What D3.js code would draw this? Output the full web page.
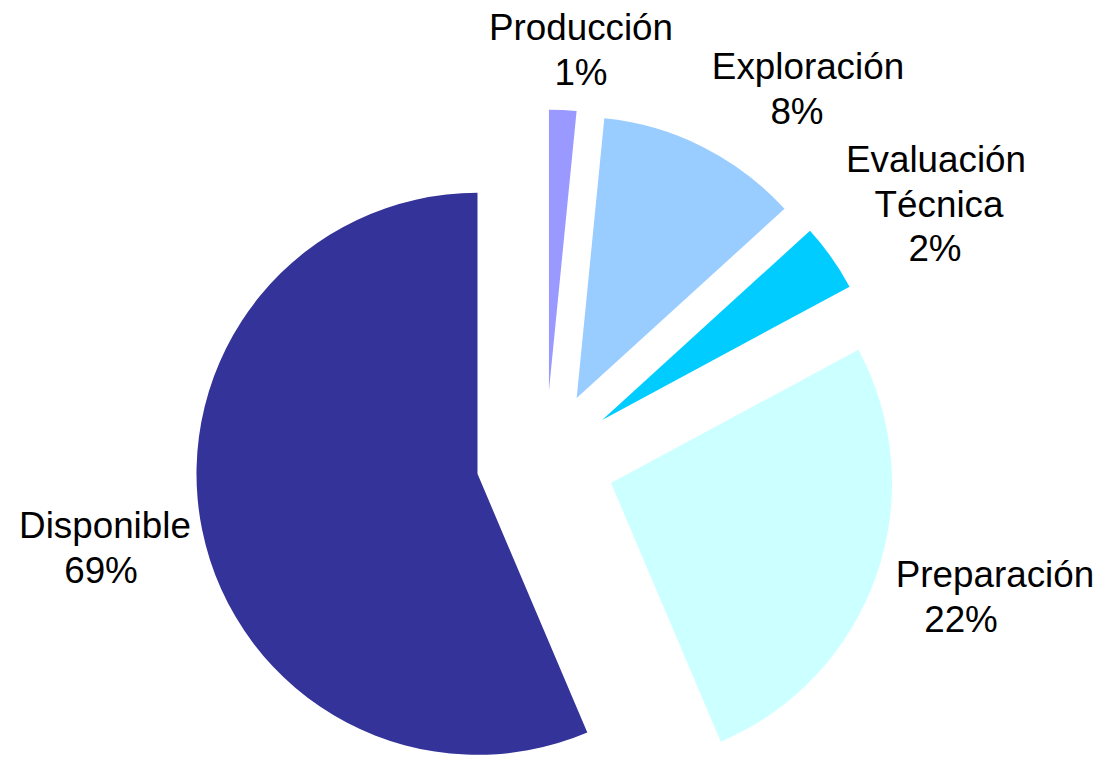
<!DOCTYPE html>
<html>
<head>
<meta charset="utf-8">
<script src="https://cdn.jsdelivr.net/npm/d3@7"></script>
<style>
  html, body { margin: 0; padding: 0; background: #ffffff; }
  svg { display: block; }
  text { font-family: "Liberation Sans", Arial, sans-serif; fill: #000; }
</style>
</head>
<body>
<svg id="chart" width="1103" height="757"></svg>
<script>
// ---- data ----
const categories = ["Producción", "Exploración", "Evaluación\nTécnica", "Preparación", "Disponible"];
const values = [1.57, 11.68, 3.89, 26.47, 56.39];        // slice shares
const percentLabels = ["1%", "8%", "2%", "22%", "69%"];  // labels as printed
const colors = ["#9999FF", "#99CCFF", "#00CCFF", "#CCFFFF", "#333399"];

// ---- layout ----
const W = 1103, H = 757;
const cx = 545.5, cy = 460, R = 281, explode = 0.247 * R;
const fontSize = 36.8, lineGap = 44.5;
// label anchors: [x per line], first baseline y
const labelLayout = [
  { xs: [581, 581], y: 40 },
  { xs: [808, 797], y: 79 },
  { xs: [936, 939, 935], y: 172 },
  { xs: [995, 961], y: 587 },
  { xs: [105, 101], y: 538 }
];

const svg = d3.select("#chart");
const data = categories.map((c, i) => ({ cat: c, value: values[i], pct: percentLabels[i], color: colors[i] }));

const pie = d3.pie().sort(null).value(d => d.value).startAngle(0).endAngle(2 * Math.PI);
const arc = d3.arc().innerRadius(0).outerRadius(R);
const arcs = pie(data);

const g = svg.append("g").attr("transform", `translate(${cx},${cy})`);
g.selectAll("path.slice")
  .data(arcs)
  .join("path")
  .attr("class", "slice")
  .attr("fill", d => d.data.color)
  .attr("transform", d => {
    const a = (d.startAngle + d.endAngle) / 2;
    return `translate(${explode * Math.sin(a)},${-explode * Math.cos(a)})`;
  })
  .attr("d", arc);

// labels
arcs.forEach((d, i) => {
  const lines = d.data.cat.split("\n").concat([d.data.pct]);
  const L = labelLayout[i];
  const t = svg.append("text")
    .attr("font-size", fontSize)
    .attr("text-anchor", "middle");
  lines.forEach((ln, k) => {
    t.append("tspan")
      .attr("x", L.xs[k])
      .attr("y", L.y + k * lineGap)
      .text(ln);
  });
});
</script>
</body>
</html>
